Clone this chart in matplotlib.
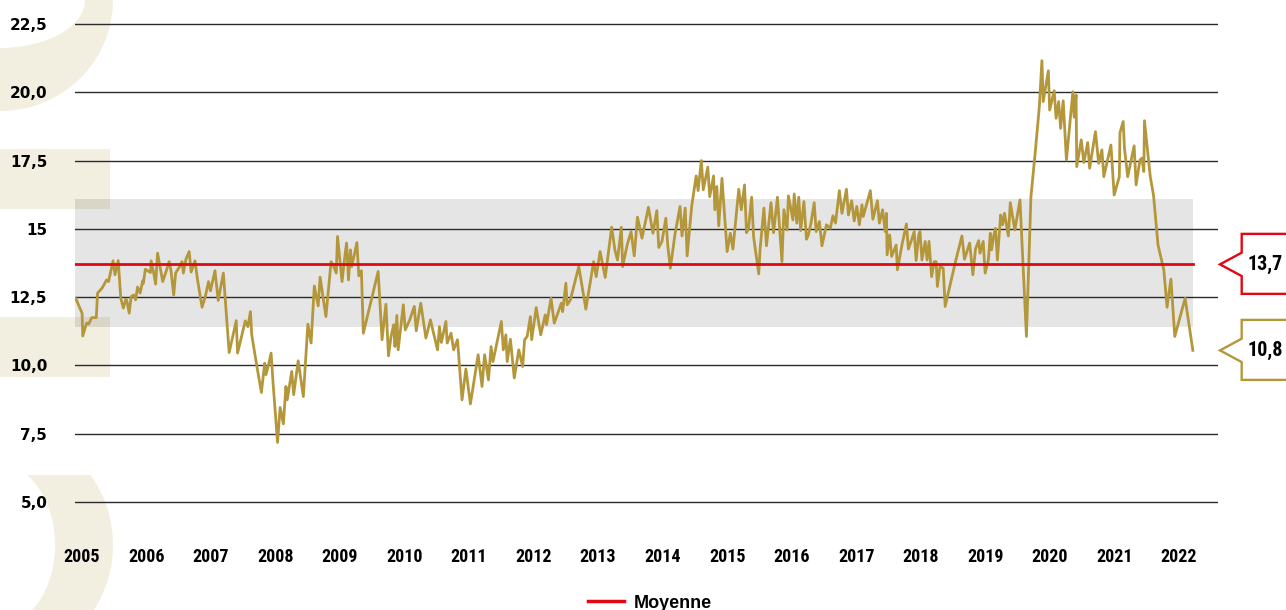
import numpy as np
import matplotlib
matplotlib.use("Agg")
import matplotlib.pyplot as plt
from matplotlib import font_manager
from matplotlib.patches import Polygon, Rectangle

# valuation ratio, 2005 - 2022 (decimal years)
dates = [
    2005.00, 2005.10, 2005.11, 2005.17, 2005.20, 2005.25, 2005.32, 2005.34, 2005.41, 2005.48,
    2005.51, 2005.58, 2005.61, 2005.66, 2005.70, 2005.74, 2005.78, 2005.80, 2005.83, 2005.86,
    2005.90, 2005.93, 2005.96, 2006.00, 2006.04, 2006.05, 2006.08, 2006.16, 2006.17, 2006.21,
    2006.24, 2006.27, 2006.35, 2006.41, 2006.45, 2006.48, 2006.52, 2006.55, 2006.62, 2006.65,
    2006.67, 2006.71, 2006.76, 2006.79, 2006.85, 2006.89, 2006.96, 2007.01, 2007.06, 2007.09,
    2007.16, 2007.21, 2007.29, 2007.38, 2007.49, 2007.51, 2007.63, 2007.67, 2007.71, 2007.73,
    2007.81, 2007.88, 2007.93, 2007.95, 2007.99, 2008.03, 2008.06, 2008.13, 2008.17, 2008.22,
    2008.26, 2008.28, 2008.35, 2008.38, 2008.45, 2008.53, 2008.60, 2008.65, 2008.70, 2008.76,
    2008.79, 2008.88, 2008.96, 2009.00, 2009.04, 2009.06, 2009.13, 2009.17, 2009.20, 2009.23,
    2009.26, 2009.28, 2009.36, 2009.39, 2009.43, 2009.46, 2009.69, 2009.75, 2009.81, 2009.85,
    2009.89, 2009.93, 2009.95, 2009.98, 2010.00, 2010.08, 2010.11, 2010.18, 2010.25, 2010.28,
    2010.35, 2010.43, 2010.50,
    2010.61, 2010.64, 2010.67, 2010.74, 2010.76, 2010.82, 2010.86, 2010.92, 2010.99, 2011.05,
    2011.12, 2011.24, 2011.30, 2011.34, 2011.40, 2011.44, 2011.47, 2011.60, 2011.63, 2011.67,
    2011.69, 2011.74, 2011.80, 2011.87, 2011.93, 2011.96, 2012.00, 2012.05, 2012.07, 2012.14,
    2012.21, 2012.28, 2012.30, 2012.37, 2012.42, 2012.53, 2012.55, 2012.60, 2012.62, 2012.67,
    2012.80, 2012.91, 2013.03, 2013.07, 2013.13, 2013.21, 2013.31,
    2013.36, 2013.40, 2013.46, 2013.48, 2013.55, 2013.61, 2013.66, 2013.71, 2013.78, 2013.88,
    2013.95, 2014.01, 2014.04, 2014.09, 2014.15, 2014.18, 2014.22, 2014.29, 2014.37, 2014.40,
    2014.45, 2014.48, 2014.55, 2014.62, 2014.65, 2014.70, 2014.73, 2014.80, 2014.83, 2014.89,
    2014.91, 2014.94, 2014.97, 2015.02, 2015.10, 2015.15, 2015.19, 2015.28, 2015.32, 2015.37,
    2015.40, 2015.43, 2015.48, 2015.51, 2015.59, 2015.61, 2015.67, 2015.71, 2015.78, 2015.82,
    2015.88, 2015.95, 2015.98, 2016.03, 2016.05, 2016.12, 2016.14, 2016.18,
    2016.21, 2016.24, 2016.29, 2016.33, 2016.36, 2016.40, 2016.45, 2016.48, 2016.53, 2016.57,
    2016.64, 2016.70, 2016.74, 2016.78, 2016.84, 2016.88, 2016.95, 2016.98, 2017.03, 2017.07,
    2017.11, 2017.15, 2017.19, 2017.21, 2017.32, 2017.36, 2017.43, 2017.46, 2017.51, 2017.55,
    2017.57, 2017.58, 2017.62, 2017.65, 2017.72, 2017.74, 2017.81, 2017.88, 2017.91, 2017.96,
    2018.00, 2018.03, 2018.07, 2018.09, 2018.12, 2018.17, 2018.20, 2018.23, 2018.27, 2018.31,
    2018.34, 2018.36, 2018.40, 2018.45, 2018.48, 2018.64, 2018.74, 2018.78, 2018.86, 2018.91,
    2018.95, 2019.00, 2019.02, 2019.07, 2019.10, 2019.15,
    2019.18, 2019.20, 2019.23, 2019.26, 2019.29, 2019.34, 2019.37, 2019.40, 2019.46, 2019.49,
    2019.56, 2019.64, 2019.74, 2019.81, 2019.88, 2019.94, 2019.98, 2020.00, 2020.08, 2020.10,
    2020.17, 2020.20, 2020.24, 2020.27, 2020.31, 2020.36, 2020.46, 2020.48, 2020.51, 2020.52,
    2020.59, 2020.63, 2020.69, 2020.72, 2020.81, 2020.86, 2020.91, 2020.94, 2021.05, 2021.10,
    2021.18, 2021.19, 2021.24, 2021.26, 2021.31, 2021.41, 2021.44, 2021.50, 2021.53, 2021.56,
    2021.57, 2021.66, 2021.71, 2021.78, 2021.87, 2021.92, 2021.98, 2022.04, 2022.20, 2022.32,
]
values = [
    12.46, 11.91, 11.08, 11.55, 11.51, 11.75, 11.75, 12.65, 12.83, 13.13,
    13.07, 13.83, 13.32, 13.84, 12.46, 12.10, 12.43, 12.30, 11.91, 12.52,
    12.58, 12.40, 12.87, 12.65, 13.10, 13.01, 13.52, 13.40, 13.83, 13.38,
    12.98, 14.11, 13.07, 13.50, 13.80, 13.44, 12.58, 13.38, 13.65, 13.80,
    13.38, 13.89, 14.17, 13.42, 13.83, 13.13, 12.13, 12.52, 13.07, 12.73,
    13.47, 12.38, 13.38, 10.47, 11.64, 10.45, 11.63, 11.42, 11.97, 11.12,
    9.96, 9.01, 10.08, 9.66, 10.02, 10.45, 9.38, 7.18, 8.46, 7.86,
    9.23, 8.74, 9.78, 8.93, 10.17, 8.86, 11.51, 10.82, 12.91, 12.18,
    13.23, 11.79, 13.80, 13.62, 13.38, 14.72, 13.07, 13.93, 14.48, 13.13,
    14.23, 13.62, 14.50, 13.28, 13.47, 11.18, 13.44, 10.94, 12.24, 10.35,
    11.06, 11.49, 10.69, 11.83, 10.57, 12.22, 11.30, 11.67, 12.16, 11.27,
    12.28, 11.00, 11.67,
    10.57, 11.42, 10.84, 11.61, 10.82, 11.18, 10.57, 10.94, 8.74, 9.87,
    8.59, 10.39, 9.23, 10.39, 9.47, 10.69, 10.14, 11.61, 10.57, 11.12,
    10.14, 10.96, 9.54, 10.57, 9.96, 10.94, 11.06, 11.79, 10.94, 12.12,
    11.12, 11.85, 11.49, 12.46, 11.55, 12.28, 11.97, 13.01, 12.22, 12.40,
    13.62, 12.06, 13.80, 13.25, 14.17, 13.22, 15.06,
    14.23, 13.86, 15.06, 13.62, 14.41, 14.90, 14.01, 15.43, 14.66, 15.79,
    14.84, 15.67, 14.32, 14.54, 15.39, 14.38, 13.56, 14.78, 15.82, 14.74,
    15.76, 14.01, 15.82, 16.94, 16.40, 17.50, 16.43, 17.26, 16.18, 16.94,
    15.70, 16.55, 15.11, 16.85, 14.17, 14.84, 14.26, 16.45, 15.70, 16.61,
    14.86, 14.99, 16.16, 14.72, 13.35, 14.23, 15.76, 14.38, 15.96, 14.86,
    16.16, 13.80, 15.70, 14.96, 16.21, 15.33, 16.28, 15.21,
    16.16, 14.94, 16.00, 14.62, 14.78, 15.21, 15.96, 14.90, 15.27, 14.38,
    15.15, 15.02, 15.48, 15.21, 16.40, 15.57, 16.45, 15.51, 16.03, 15.29,
    15.82, 15.15, 15.88, 15.45, 16.40, 15.35, 16.03, 15.21, 15.70, 14.90,
    15.57, 14.05, 14.78, 13.99, 14.41, 13.50, 14.41, 15.18, 14.26, 14.60,
    14.90, 13.84, 14.78, 14.90, 13.86, 14.54, 13.86, 14.54, 13.25, 13.80,
    13.80, 12.89, 13.62, 13.56, 12.16, 13.80, 14.74, 13.89, 14.48, 13.32,
    14.26, 14.57, 14.11, 14.54, 13.38, 13.86,
    14.84, 14.23, 14.72, 15.02, 13.86, 15.51, 15.15, 15.57, 14.74, 15.96,
    14.96, 16.06, 11.06, 16.18, 17.89, 19.47, 21.16, 19.66, 20.79, 19.35,
    20.06, 19.05, 19.66, 18.68, 19.69, 17.52, 20.02, 19.09, 19.90, 17.28,
    18.26, 17.43, 18.16, 17.22, 18.56, 17.40, 17.89, 16.91, 18.07, 16.24,
    16.91, 18.52, 18.93, 17.95, 16.91, 18.04, 16.61, 17.52, 17.59, 17.10,
    18.96, 16.91, 16.24, 14.41, 13.50, 12.13, 13.16, 11.06, 12.46, 10.55,
]

mean_value = 13.7
band_low = 11.4
band_high = 16.1
band_end = 2022.33
mean_label = "13,7"
last_label = "10,8"
year_ticks = list(range(2005, 2023))
y_ticks = [5.0, 7.5, 10.0, 12.5, 15.0, 17.5, 20.0, 22.5]
y_labels = ["5,0", "7,5", "10,0", "12,5", "15", "17,5", "20,0", "22,5"]

GOLD = "#B4973B"
RED = "#E30613"
BEIGE = "#F2EEE0"

# a narrow bold face if one is installed, else plain Liberation Sans
names = {f.name for f in font_manager.fontManager.ttflist}
narrow, year_size, call_size = "Liberation Sans", 11.5, 13
for cand in ["Liberation Sans Narrow", "Arial Narrow", "Roboto Condensed", "Open Sans Condensed"]:
    if cand in names:
        narrow, year_size, call_size = cand, 13, 14.5
        break

W, H = 1286, 610
fig = plt.figure(figsize=(W / 100, H / 100), dpi=100)

# decorative background, pixel coordinates
bg = fig.add_axes([0, 0, 1, 1], zorder=0)
bg.set_xlim(0, W)
bg.set_ylim(H, 0)
bg.axis("off")

t = np.linspace(0, np.pi / 2, 60)
top_shape = np.vstack([np.column_stack([113 * np.cos(t), 111 * np.sin(t)]),
                       np.column_stack([85 * np.cos(t), 48 * np.sin(t)])[::-1]])
bg.add_patch(Polygon(top_shape, closed=True, color=BEIGE, lw=0))
bg.add_patch(Rectangle((0, 149), 110, 60, color=BEIGE, lw=0))
bg.add_patch(Rectangle((0, 317), 110, 60, color=BEIGE, lw=0))
to = np.linspace(-0.641, 0.589, 60)
ti = np.linspace(-1.065, 0.948, 60)
outer = np.column_stack([113 * np.cos(to), 545 + 117 * np.sin(to)])
inner = np.column_stack([55 * np.cos(ti), 545 + 80 * np.sin(ti)])
bottom_shape = np.vstack([outer, [[outer[-1, 0], H + 5], [inner[-1, 0], H + 5]], inner[::-1]])
bg.add_patch(Polygon(bottom_shape, closed=True, color=BEIGE, lw=0))

# main chart
ax = fig.add_axes([75 / W, (H - 504.7) / H, 1143 / W, (504.7 - 21.3) / H], zorder=1)
ax.patch.set_alpha(0)
x0, x1 = 2004.99, 2022.71
ax.set_xlim(x0, x1)
ax.set_ylim(4.9, 22.6)

ax.add_patch(Rectangle((x0, band_low), band_end - x0, band_high - band_low,
                       color="black", alpha=0.1, lw=0, zorder=1))
for y in y_ticks:
    ax.axhline(y, color="#2b2b2b", lw=1.0, zorder=2)

ax.plot(dates, values, color=GOLD, lw=2.0, zorder=3)
ax.plot([x0, band_end], [mean_value, mean_value], color=RED, lw=2.0, zorder=4, label="Moyenne")

for s in ax.spines.values():
    s.set_visible(False)
ax.set_xticks([y + 0.1 for y in year_ticks])
ax.set_xticklabels([str(y) for y in year_ticks], family=narrow, weight="bold", size=year_size)
ax.set_yticks(y_ticks)
ax.set_yticklabels(y_labels, family="DejaVu Sans", weight="bold", size=11)
ax.tick_params(axis="x", length=0, pad=31)
ax.tick_params(axis="y", length=0, pad=20)

fig.canvas.draw()


def callout(value, text, color):
    ty = H - ax.transData.transform((2010, value))[1]
    tx = 1220
    pts = [(tx, ty), (tx + 21.7, ty - 11.7), (tx + 21.7, ty - 30.5), (W + 10, ty - 30.5),
           (W + 10, ty + 29.5), (tx + 21.7, ty + 29.5), (tx + 21.7, ty + 11.7)]
    bg.add_patch(Polygon(pts, closed=True, facecolor="white", edgecolor=color, lw=1.7, zorder=5))
    bg.text(1265, ty, text, ha="center", va="center", family=narrow, weight="bold",
            size=call_size, color="black", zorder=6)


callout(mean_value, mean_label, RED)
callout(values[-1], last_label, GOLD)

leg = ax.legend(loc="center", bbox_to_anchor=(650 / W, 7 / H), bbox_transform=fig.transFigure,
                frameon=False, handlelength=2.0, handletextpad=0.5,
                prop={"family": "Liberation Sans", "weight": "bold", "size": 13})
leg.get_lines()[0].set_linewidth(2.5)

fig.savefig("out.png", dpi=100)
